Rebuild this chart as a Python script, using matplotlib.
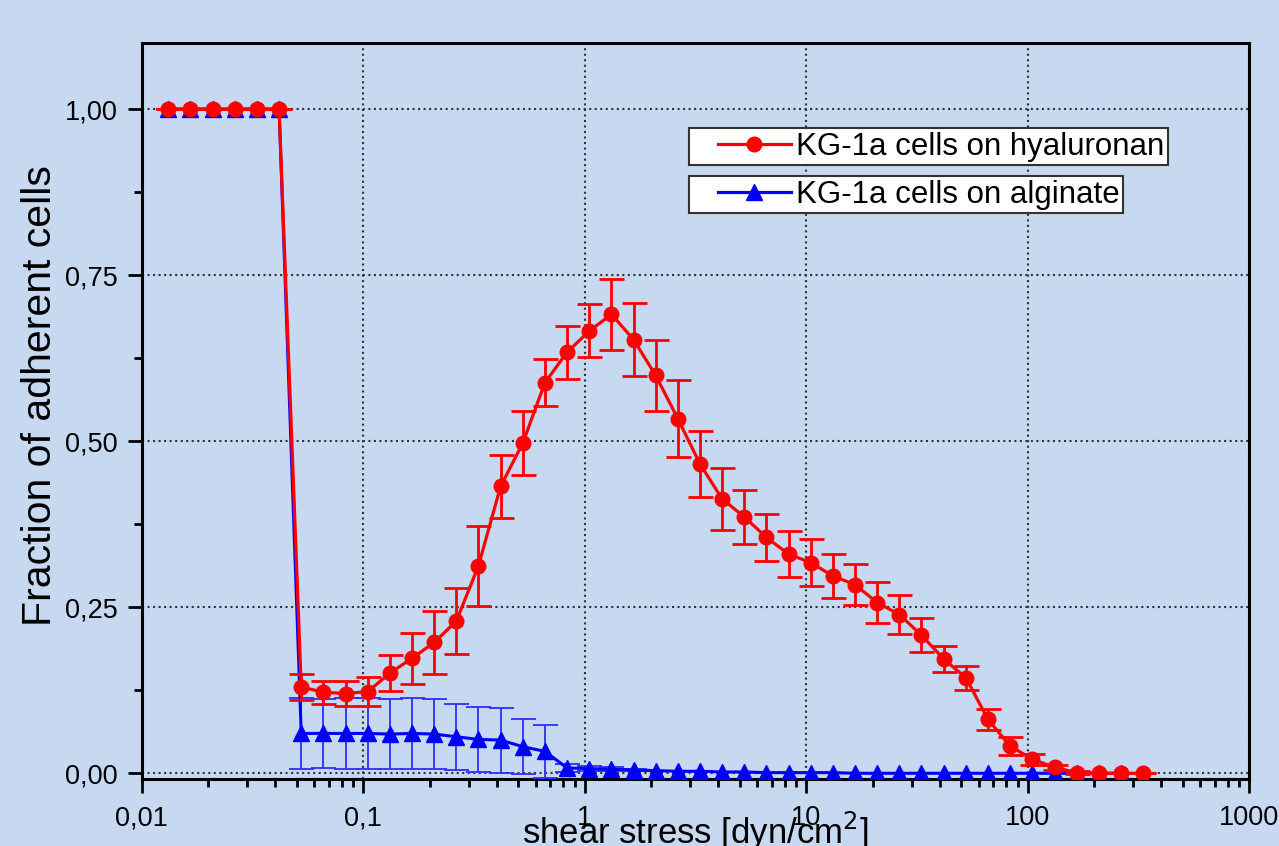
import matplotlib
matplotlib.use('Agg')
import matplotlib.pyplot as plt
from matplotlib.lines import Line2D
from matplotlib.legend_handler import HandlerLine2D
from matplotlib.ticker import LogLocator, NullFormatter, MultipleLocator

plt.rcParams['font.family'] = ['Liberation Sans', 'DejaVu Sans']

# shear stress steps (dyn/cm^2)
shear = [0.0132, 0.0166, 0.0209, 0.0263, 0.0331, 0.0417, 0.0525, 0.0661, 0.0832,
         0.105, 0.132, 0.166, 0.209, 0.263, 0.331, 0.417, 0.525, 0.661, 0.832,
         1.05, 1.32, 1.66, 2.09, 2.63, 3.31, 4.17, 5.25, 6.61, 8.32,
         10.5, 13.2, 16.6, 20.9, 26.3, 33.1, 41.7, 52.5, 66.1, 83.2,
         105, 132, 166, 209, 263, 331]

# KG-1a on hyaluronan
hya = [1.0, 1.0, 1.0, 1.0, 1.0, 1.0, 0.130, 0.122, 0.120,
       0.123, 0.151, 0.173, 0.197, 0.229, 0.312, 0.432, 0.497, 0.588, 0.634,
       0.666, 0.691, 0.653, 0.599, 0.534, 0.466, 0.413, 0.386, 0.355, 0.330,
       0.317, 0.297, 0.284, 0.257, 0.239, 0.208, 0.172, 0.144, 0.081, 0.041,
       0.021, 0.009, 0.001, 0.0, 0.0, 0.0]
hya_err = [0, 0, 0, 0, 0, 0, 0.019, 0.017, 0.019,
           0.022, 0.027, 0.038, 0.047, 0.050, 0.060, 0.047, 0.048, 0.035, 0.040,
           0.040, 0.053, 0.055, 0.054, 0.058, 0.050, 0.047, 0.041, 0.036, 0.035,
           0.035, 0.033, 0.031, 0.031, 0.029, 0.026, 0.020, 0.018, 0.016, 0.014,
           0.008, 0.004, 0.002, 0, 0, 0]

# KG-1a on alginate
alg = [1.0, 1.0, 1.0, 1.0, 1.0, 1.0, 0.060, 0.060, 0.060,
       0.060, 0.059, 0.060, 0.059, 0.055, 0.051, 0.050, 0.040, 0.033, 0.008,
       0.007, 0.006, 0.005, 0.004, 0.003, 0.003, 0.002, 0.002, 0.001, 0.001,
       0.001, 0.001, 0.0, 0.0, 0.0, 0.0, 0.0, 0.0, 0.0, 0.0,
       0.0, 0.0, 0.0, 0.0, 0.0]
alg_err = [0, 0, 0, 0, 0, 0, 0.053, 0.052, 0.053,
           0.054, 0.053, 0.054, 0.053, 0.050, 0.049, 0.049, 0.041, 0.040, 0.006,
           0.004, 0.003, 0.002, 0, 0, 0, 0, 0, 0, 0,
           0, 0, 0, 0, 0, 0, 0, 0, 0, 0,
           0, 0, 0, 0, 0]

xticks = [0.01, 0.1, 1, 10, 100, 1000]
xticklabels = ['0,01', '0,1', '1', '10', '100', '1000']
yticks = [0.0, 0.25, 0.5, 0.75, 1.0]
yticklabels = ['0,00', '0,25', '0,50', '0,75', '1,00']

bg = '#C6D9F0'
fig = plt.figure(figsize=(12.79, 8.46), dpi=100)
fig.patch.set_facecolor(bg)
ax = fig.add_axes([0.1108, 0.0792, 0.8660, 0.8696])
ax.set_facecolor(bg)

ax.errorbar(shear[:len(alg)], alg, yerr=alg_err, color='#0000FF', lw=2.2,
            marker='^', ms=12, ecolor='#2E2EFF', elinewidth=1.3, capsize=9,
            capthick=1.3, zorder=3)
ax.errorbar(shear, hya, yerr=hya_err, color='#FF0000', lw=2.3,
            marker='o', ms=10.5, ecolor='#FF0000', elinewidth=2, capsize=9,
            capthick=2, zorder=4)

ax.set_xscale('log')
ax.set_xlim(0.01, 1000)
ax.set_ylim(-0.0086, 1.099)
ax.set_xticks(xticks, labels=xticklabels)
ax.xaxis.set_minor_locator(LogLocator(base=10, subs=range(2, 10)))
ax.xaxis.set_minor_formatter(NullFormatter())
ax.set_yticks(yticks, labels=yticklabels)
ax.yaxis.set_minor_locator(MultipleLocator(0.125))

ax.grid(True, which='major', ls=':', lw=1.5, color='#333333')
ax.set_axisbelow(True)
for s in ax.spines.values():
    s.set_linewidth(2.2)
ax.tick_params(which='major', direction='out', length=10, width=2, labelsize=19.5)
ax.tick_params(axis='x', which='major', pad=9)
ax.tick_params(axis='y', which='major', pad=7)
ax.tick_params(which='minor', direction='out', length=5.5, width=2)

ax.set_xlabel('shear stress [dyn/cm$^2$]', fontsize=25)
ax.xaxis.set_label_coords(0.5, -0.0884)
ax.xaxis.label.set_va('baseline')
ax.set_ylabel('Fraction of adherent cells', fontsize=29.5)
ax.yaxis.set_label_coords(-0.075, 0.521)

h_red = Line2D([], [], color='#FF0000', marker='o', ms=10.5, lw=2.3)
h_blue = Line2D([], [], color='#0000FF', marker='^', ms=12, lw=2.3)
hmap = {h_red: HandlerLine2D(xpad=0.8), h_blue: HandlerLine2D(xpad=0.8)}
common = dict(loc='upper left', bbox_transform=fig.transFigure, fancybox=False,
              framealpha=1, edgecolor='#333333', fontsize=22.5, borderpad=0.12,
              handlelength=3.15, handletextpad=0.15, borderaxespad=0,
              handler_map=hmap)
leg1 = ax.legend([h_red], ['KG-1a cells on hyaluronan'],
                 bbox_to_anchor=(689 / 1279, 1 - 128 / 846), **common)
leg1.get_frame().set_linewidth(1.5)
ax.add_artist(leg1)
leg2 = ax.legend([h_blue], ['KG-1a cells on alginate'],
                 bbox_to_anchor=(689 / 1279, 1 - 176 / 846), **common)
leg2.get_frame().set_linewidth(1.5)

fig.savefig('out.png', dpi=100, facecolor=bg)
